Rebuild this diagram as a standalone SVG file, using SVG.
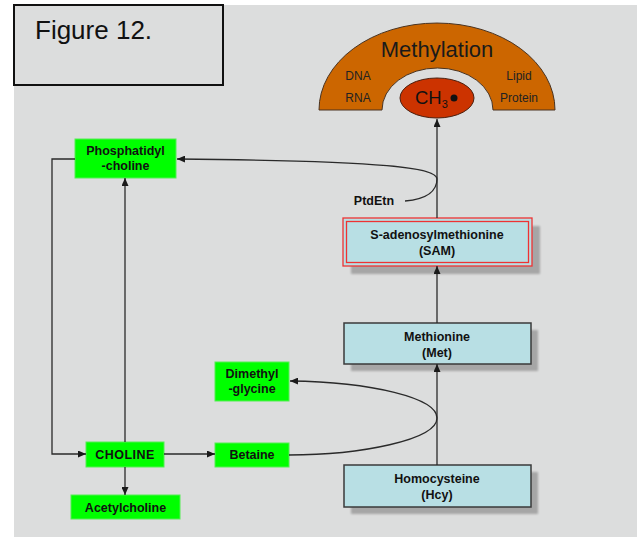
<svg xmlns="http://www.w3.org/2000/svg" width="637" height="537" viewBox="0 0 637 537">
  <defs>
    <marker id="arrow" viewBox="0 0 8 7" refX="8" refY="3.5" markerWidth="8" markerHeight="7" markerUnits="userSpaceOnUse" orient="auto">
      <path d="M0,0 L8,3.5 L0,7 z" fill="#1a1a1a"/>
    </marker>
    <filter id="soft" x="-10%" y="-10%" width="120%" height="130%">
      <feGaussianBlur stdDeviation="1"/>
    </filter>
  </defs>
  <style>
    .lbl { font-family: "Liberation Sans", Arial, sans-serif; font-weight: bold; font-size: 12.5px; fill: #111; text-anchor: middle; }
    .small { font-family: "Liberation Sans", Arial, sans-serif; font-size: 12px; fill: #222; text-anchor: middle; }
    .green { fill: #00ff00; stroke: #55ee55; stroke-width: 1; }
    .blue { fill: #b8dfe4; stroke: #3a3a3a; stroke-width: 1.5; }
    .shadow { fill: #a6a6a6; filter: url(#soft); }
    .conn { fill: none; stroke: #2a2a2a; stroke-width: 1.3; }
  </style>

  <!-- page -->
  <rect x="0" y="0" width="637" height="537" fill="#ffffff"/>
  <rect x="14" y="5" width="623" height="532" fill="#dcdddd"/>

  <!-- caption box -->
  <g id="caption">
    <rect x="14" y="5" width="209" height="80" fill="#dcdddd" stroke="#111" stroke-width="2"/>
    <text x="35" y="39" font-family="Liberation Sans, Arial, sans-serif" font-size="26" fill="#111">Figure 12.</text>
  </g>

  <!-- methylation arch -->
  <g id="methylation">
    <path d="M319,110 A118,87 0 0 1 555,110 L493,110 A55.5,42 0 0 0 382,110 Z" fill="#cc6600" stroke="#4a3320" stroke-width="1"/>
    <text x="437" y="57" font-family="Liberation Sans, Arial, sans-serif" font-size="22" fill="#1a1a1a" text-anchor="middle">Methylation</text>
    <text class="small" x="358" y="80">DNA</text>
    <text class="small" x="358" y="102">RNA</text>
    <text class="small" x="519" y="80">Lipid</text>
    <text class="small" x="519" y="102">Protein</text>
  </g>

  <g id="ch3">
    <ellipse cx="437" cy="98" rx="37" ry="20" fill="#cc3300" stroke="#4a2010" stroke-width="1"/>
    <text x="415" y="104" font-family="Liberation Sans, Arial, sans-serif" font-size="18.5" fill="#111">CH<tspan font-size="11" dy="4">3</tspan></text>
    <circle cx="454" cy="98" r="3.5" fill="#111"/>
  </g>

  <!-- blue nodes -->
  <g id="sam">
    <rect class="shadow" x="351" y="226" width="189" height="48"/>
    <rect x="343" y="218" width="189" height="48" fill="#b8dfe4" stroke="#ee3333" stroke-width="1.3"/>
    <rect x="346.5" y="221.5" width="182" height="41" fill="none" stroke="#ee3333" stroke-width="1.3"/>
    <text class="lbl" x="437" y="239">S-adenosylmethionine</text>
    <text class="lbl" x="437" y="255">(SAM)</text>
  </g>

  <g id="methionine">
    <rect class="shadow" x="351" y="330" width="187" height="41"/>
    <rect class="blue" x="344" y="323" width="187" height="41"/>
    <text class="lbl" x="437" y="341">Methionine</text>
    <text class="lbl" x="437" y="357">(Met)</text>
  </g>

  <g id="homocysteine">
    <rect class="shadow" x="351" y="472" width="187" height="42"/>
    <rect class="blue" x="344" y="465" width="187" height="42"/>
    <text class="lbl" x="437" y="483">Homocysteine</text>
    <text class="lbl" x="437" y="499">(Hcy)</text>
  </g>

  <g id="ptdetn">
    <text class="lbl" x="374" y="205">PtdEtn</text>
  </g>

  <!-- green nodes -->
  <g id="phosphatidylcholine">
    <rect class="green" x="75" y="139" width="101" height="39"/>
    <text class="lbl" x="125.5" y="155">Phosphatidyl</text>
    <text class="lbl" x="125.5" y="170">-choline</text>
  </g>

  <g id="choline">
    <rect class="green" x="86" y="442" width="78" height="25"/>
    <text class="lbl" x="125" y="459" letter-spacing="0.5">CHOLINE</text>
  </g>

  <g id="acetylcholine">
    <rect class="green" x="71" y="495" width="109" height="24"/>
    <text class="lbl" x="125.5" y="512">Acetylcholine</text>
  </g>

  <g id="dimethylglycine">
    <rect class="green" x="215" y="362" width="74" height="39"/>
    <text class="lbl" x="252" y="378">Dimethyl</text>
    <text class="lbl" x="252" y="393">-glycine</text>
  </g>

  <g id="betaine">
    <rect class="green" x="215" y="443" width="74" height="24"/>
    <text class="lbl" x="252" y="459">Betaine</text>
  </g>

  <!-- connectors, drawn last so arrowheads sit over box shadows -->
  <g id="connectors">
    <line class="conn" x1="437" y1="218" x2="437" y2="119" marker-end="url(#arrow)"/>
    <line class="conn" x1="437" y1="323" x2="437" y2="266" marker-end="url(#arrow)"/>
    <line class="conn" x1="437" y1="465" x2="437" y2="364" marker-end="url(#arrow)"/>
    <path class="conn" d="M405,201 C428,199 437,190 437,179 C437,168 390,161 177,159" marker-end="url(#arrow)"/>
    <path class="conn" d="M289,455 C360,455 437,440 437,418 C437,398 372,382 290,381" marker-end="url(#arrow)"/>
    <polyline class="conn" points="75,159 52,159 52,454 86,454" marker-end="url(#arrow)"/>
    <line class="conn" x1="125" y1="442" x2="125" y2="178" marker-end="url(#arrow)"/>
    <line class="conn" x1="125" y1="467" x2="125" y2="495" marker-end="url(#arrow)"/>
    <line class="conn" x1="164" y1="454" x2="215" y2="454" marker-end="url(#arrow)"/>
  </g>
</svg>
